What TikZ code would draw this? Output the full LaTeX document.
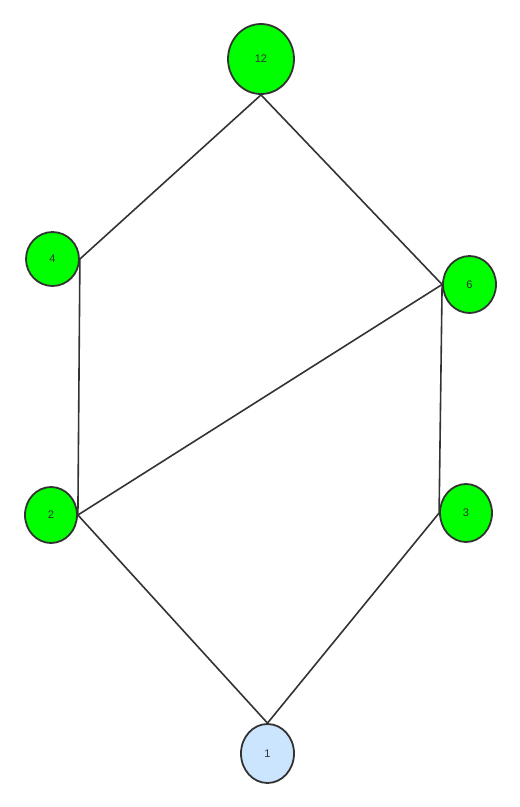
\documentclass[tikz,border=0pt]{standalone}
\usepackage{fontspec}
\setmainfont{Liberation Sans}
\usetikzlibrary{shapes.geometric}
\definecolor{nodegreen}{HTML}{00FF00}
\definecolor{nodeblue}{HTML}{CCE5FF}
\definecolor{linegray}{HTML}{333333}
\begin{document}
\begin{tikzpicture}[x=1pt,y=-1pt,
  vtx/.style={ellipse,draw=linegray,line width=1.8pt,inner sep=0pt,font=\fontsize{11}{12}\selectfont,text=linegray},
  gv/.style={vtx,fill=nodegreen},
  bv/.style={vtx,fill=nodeblue},
  edge/.style={draw=linegray,line width=1.6pt}]
\useasboundingbox (0,0) rectangle (520,807);
\node[gv,minimum width=66pt,minimum height=70pt] (n12) at (261,59) {12};
\node[gv,minimum width=53pt,minimum height=54pt] (n4) at (52.5,259) {4};
\node[gv,minimum width=53pt,minimum height=57pt] (n6) at (469.5,284.5) {6};
\node[gv,minimum width=52pt,minimum height=56pt] (n2) at (51,515) {2};
\node[gv,minimum width=52pt,minimum height=58pt] (n3) at (466,513) {3};
\node[bv,minimum width=53pt,minimum height=59pt] (n1) at (267.5,753.5) {1};
\draw[edge] (n12.south) -- (n4.east);
\draw[edge] (n12.south) -- (n6.west);
\draw[edge] (n4.east) -- (n2.east);
\draw[edge] (n6.west) -- (n2.east);
\draw[edge] (n6.west) -- (n3.west);
\draw[edge] (n2.east) -- (n1.north);
\draw[edge] (n3.west) -- (n1.north);
\end{tikzpicture}
\end{document}
